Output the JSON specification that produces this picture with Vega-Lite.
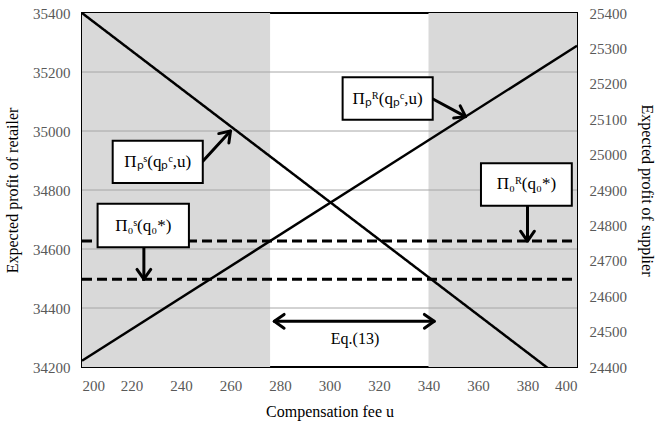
{
  "$schema": "https://vega.github.io/schema/vega-lite/v6.json",
  "width": 495,
  "height": 354,
  "padding": {"left": 4, "top": 6, "right": 2, "bottom": 5},
  "background": "white",
  "config": {
    "view": {"stroke": "black", "strokeWidth": 2},
    "font": "Liberation Serif",
    "axis": {
      "labelFont": "Liberation Serif",
      "labelFontSize": 15,
      "labelColor": "#595959",
      "labelOverlap": false,
      "titleFont": "Liberation Serif",
      "titleFontSize": 16,
      "titleFontWeight": "normal",
      "titleColor": "black",
      "ticks": false,
      "domain": false,
      "grid": false,
      "format": "d"
    }
  },
  "datasets": {
    "shade": [{"x": 200, "x2": 276}, {"x": 340, "x2": 400}],
    "grid": [{"y": 34400}, {"y": 34600}, {"y": 34800}, {"y": 35000}, {"y": 35200}],
    "retailer": [{"x": 200, "y": 34221}, {"x": 400, "y": 35289}],
    "retailer0": [{"x": 200, "y": 34627}, {"x": 400, "y": 34627}],
    "supplierlines": [
      {"s": "Supplier profit", "x": 200, "y": 25400},
      {"s": "Supplier profit", "x": 400, "y": 24334},
      {"s": "Supplier benchmark", "x": 200, "y": 24648},
      {"s": "Supplier benchmark", "x": 400, "y": 24648}
    ],
    "arrows": [
      {"seg": "A1", "o": 1, "x": 248.9, "y": 34898},
      {"seg": "A1", "o": 2, "x": 260, "y": 35000},
      {"seg": "A2", "o": 1, "x": 255.27, "y": 34991.2},
      {"seg": "A2", "o": 2, "x": 260, "y": 35000},
      {"seg": "A2", "o": 3, "x": 259.35, "y": 34959.7},
      {"seg": "B1", "o": 1, "x": 225, "y": 34606},
      {"seg": "B1", "o": 2, "x": 225, "y": 34497.6},
      {"seg": "B2", "o": 1, "x": 222.22, "y": 34530.8},
      {"seg": "B2", "o": 2, "x": 225, "y": 34497.6},
      {"seg": "B2", "o": 3, "x": 227.78, "y": 34530.8},
      {"seg": "C1", "o": 1, "x": 341.8, "y": 35108.5},
      {"seg": "C1", "o": 2, "x": 355, "y": 35048.7},
      {"seg": "C2", "o": 1, "x": 352.81, "y": 35085.2},
      {"seg": "C2", "o": 2, "x": 355, "y": 35048.7},
      {"seg": "C2", "o": 3, "x": 350.18, "y": 35044.1},
      {"seg": "D1", "o": 1, "x": 380, "y": 34747},
      {"seg": "D1", "o": 2, "x": 380, "y": 34627},
      {"seg": "D2", "o": 1, "x": 377.21, "y": 34660.3},
      {"seg": "D2", "o": 2, "x": 380, "y": 34627},
      {"seg": "D2", "o": 3, "x": 382.79, "y": 34660.3},
      {"seg": "E1", "o": 1, "x": 277.7, "y": 34355},
      {"seg": "E1", "o": 2, "x": 342.3, "y": 34355},
      {"seg": "E2", "o": 1, "x": 281.66, "y": 34378.3},
      {"seg": "E2", "o": 2, "x": 277.7, "y": 34355},
      {"seg": "E2", "o": 3, "x": 281.66, "y": 34331.5},
      {"seg": "E3", "o": 1, "x": 338.34, "y": 34378.3},
      {"seg": "E3", "o": 2, "x": 342.3, "y": 34355},
      {"seg": "E3", "o": 3, "x": 338.34, "y": 34331.5}
    ],
    "boxes": [
      {"x": 212.4, "x2": 248.8, "y": 34824, "y2": 34967, "xc": 230.6, "yc": 34895.5, "label": "Πₚˢ(qₚᶜ,u)"},
      {"x": 206.3, "x2": 243.2, "y": 34606, "y2": 34753, "xc": 224.75, "yc": 34679.5, "label": "Π₀ˢ(q₀*)"},
      {"x": 305.3, "x2": 341.7, "y": 35038, "y2": 35182, "xc": 323.5, "yc": 35110, "label": "Πₚᴿ(qₚᶜ,u)"},
      {"x": 361.2, "x2": 397.9, "y": 34747, "y2": 34891, "xc": 379.55, "yc": 34819, "label": "Π₀ᴿ(q₀*)"}
    ],
    "eq": [{"x": 310.3, "y": 34295, "label": "Eq.(13)"}]
  },
  "layer": [
    {
      "layer": [
        {
          "data": {"name": "shade"},
          "mark": {"type": "rect", "color": "#d9d9d9"},
          "encoding": {
            "x": {"field": "x", "type": "quantitative", "scale": {"domain": [200, 400], "nice": false, "zero": false},
              "axis": {"title": "Compensation fee u", "values": [200, 220, 240, 260, 280, 300, 320, 340, 360, 380, 400], "labelPadding": 11, "titlePadding": 10, "labelOverlap": false, "labelFont": "Liberation Serif", "labelFontSize": 15, "labelColor": "#595959", "format": "d"}},
            "x2": {"field": "x2"}
          }
        },
        {
          "data": {"name": "grid"},
          "mark": {"type": "rule", "color": "#a6a6a6", "strokeWidth": 1},
          "encoding": {
            "y": {"field": "y", "type": "quantitative", "scale": {"domain": [34200, 35400], "nice": false, "zero": false},
              "axis": {"orient": "left", "title": "Expected profit of retailer", "values": [34200, 34400, 34600, 34800, 35000, 35200, 35400], "labelPadding": 12, "titlePadding": 12, "labelOverlap": false, "labelFont": "Liberation Serif", "labelFontSize": 15, "labelColor": "#595959", "format": "d"}}
          }
        },
        {
          "data": {"name": "retailer"},
          "mark": {"type": "line", "color": "black", "strokeWidth": 2.5},
          "encoding": {
            "x": {"field": "x", "type": "quantitative"},
            "y": {"field": "y", "type": "quantitative"}
          }
        },
        {
          "data": {"name": "retailer0"},
          "mark": {"type": "line", "color": "black", "strokeWidth": 3, "strokeDash": [10, 5]},
          "encoding": {
            "x": {"field": "x", "type": "quantitative"},
            "y": {"field": "y", "type": "quantitative"}
          }
        },
        {
          "data": {"name": "arrows"},
          "mark": {"type": "line", "color": "black", "strokeWidth": 3, "strokeCap": "round", "strokeJoin": "round"},
          "encoding": {
            "x": {"field": "x", "type": "quantitative"},
            "y": {"field": "y", "type": "quantitative"},
            "detail": {"field": "seg"},
            "order": {"field": "o"}
          }
        },
        {
          "data": {"name": "boxes"},
          "mark": {"type": "rect", "fill": "white", "stroke": "black", "strokeWidth": 2},
          "encoding": {
            "x": {"field": "x", "type": "quantitative"},
            "x2": {"field": "x2"},
            "y": {"field": "y", "type": "quantitative"},
            "y2": {"field": "y2"}
          }
        },
        {
          "data": {"name": "boxes"},
          "mark": {"type": "text", "font": "Liberation Serif", "fontSize": 17, "color": "black", "align": "center", "baseline": "middle"},
          "encoding": {
            "x": {"field": "xc", "type": "quantitative"},
            "y": {"field": "yc", "type": "quantitative"},
            "text": {"field": "label"}
          }
        },
        {
          "data": {"name": "eq"},
          "mark": {"type": "text", "font": "Liberation Serif", "fontSize": 16, "color": "black", "align": "center", "baseline": "middle"},
          "encoding": {
            "x": {"field": "x", "type": "quantitative"},
            "y": {"field": "y", "type": "quantitative"},
            "text": {"field": "label"}
          }
        }
      ]
    },
    {
      "data": {"name": "supplierlines"},
      "mark": {"type": "line", "color": "black", "clip": true},
      "encoding": {
        "x": {"field": "x", "type": "quantitative"},
        "y": {"field": "y", "type": "quantitative", "scale": {"domain": [24400, 25400], "nice": false, "zero": false},
          "axis": {"orient": "right", "title": "Expected profit of supplier", "titleAngle": 90, "values": [24400, 24500, 24600, 24700, 24800, 24900, 25000, 25100, 25200, 25300, 25400], "tickCount": 11, "labelPadding": 12, "titlePadding": 12, "labelOverlap": false, "labelFont": "Liberation Serif", "labelFontSize": 15, "labelColor": "#595959", "format": "d"}},
        "detail": {"field": "s"},
        "strokeDash": {"field": "s", "type": "nominal", "scale": {"domain": ["Supplier profit", "Supplier benchmark"], "range": [[1, 0], [10, 5]]}, "legend": null},
        "strokeWidth": {"field": "s", "type": "nominal", "scale": {"domain": ["Supplier profit", "Supplier benchmark"], "range": [2.5, 3]}, "legend": null}
      }
    }
  ],
  "resolve": {"scale": {"y": "independent"}}
}
